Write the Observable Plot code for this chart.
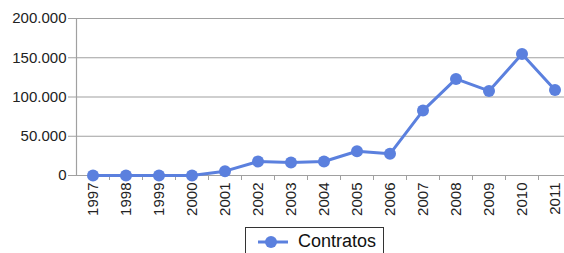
<!DOCTYPE html>
<html>
<head>
<meta charset="utf-8">
<script src="https://cdn.jsdelivr.net/npm/d3@7"></script>
<script src="https://cdn.jsdelivr.net/npm/@observablehq/plot@0.6"></script>
<style>
  html, body { margin: 0; padding: 0; background: #fff; overflow: hidden; width: 564px; height: 253px; }
  #chart svg { display: block; }
  .legend { position: absolute; left: 245px; top: 227px; width: 139px; height: 34px; border: 1px solid #333; box-sizing: border-box; font-family: "Liberation Sans", Arial, sans-serif; font-size: 18px; color: #111; }
  .legend svg { position: absolute; left: 11px; top: 6px; }
  .legend span { position: absolute; left: 52px; top: 3px; }
</style>
</head>
<body>
<div id="chart"></div>
<div class="legend"><svg width="32" height="16"><line x1="1" y1="8" x2="31" y2="8" stroke="#5b80de" stroke-width="3"/><circle cx="14" cy="8" r="6" fill="#5b80de"/></svg><span>Contratos</span></div>
<script>
const years = [1997, 1998, 1999, 2000, 2001, 2002, 2003, 2004, 2005, 2006, 2007, 2008, 2009, 2010, 2011];
const contratos = [0, 0, 0, 0, 5500, 17800, 16500, 17800, 30900, 27600, 82700, 123000, 107700, 154800, 109000];
const yTicks = [0, 50000, 100000, 150000, 200000];
const seriesName = "Contratos";

const data = years.map((y, i) => ({year: y, value: contratos[i]}));
const fmt = d3.formatLocale({thousands: ".", grouping: [3], decimal: ","}).format(",");
const boundaries = years.slice(0, -1).map(y => y + 0.5);
const color = "#5b80de";

const chart = Plot.plot({
  width: 564,
  height: 225,
  marginLeft: 76,
  marginRight: -7,
  marginTop: 18,
  marginBottom: 50,
  style: {fontFamily: "'Liberation Sans', Arial, sans-serif", fontSize: "15px", color: "#222", background: "#fff"},
  x: {type: "linear", domain: [years[0] - 0.5, years[years.length - 1] + 0.5], label: null},
  y: {domain: [0, 200000], label: null},
  marks: [
    Plot.gridY(yTicks, {stroke: "#a0a0a0", strokeOpacity: 1, strokeWidth: 1.2}),
    Plot.ruleX([years[0] - 0.5], {y1: 0, y2: 200000, stroke: "#a0a0a0", strokeWidth: 1.2}),
    Plot.axisY(yTicks, {tickSize: 8, tickPadding: 2, tickFormat: fmt, stroke: "#a0a0a0", fill: "#222", fontSize: 15, label: null}),
    Plot.axisX(boundaries, {tickSize: 5, tickFormat: () => "", stroke: "#a0a0a0", label: null}),
    Plot.axisX(years, {tickSize: 0, tickPadding: 7, tickRotate: -90, tickFormat: d => String(d), fill: "#222", fontSize: 15, label: null}),
    Plot.line(data, {x: "year", y: "value", stroke: color, strokeWidth: 3}),
    Plot.dot(data, {x: "year", y: "value", r: 6, fill: color, title: d => `${seriesName}: ${fmt(d.value)}`})
  ]
});
document.getElementById("chart").appendChild(chart);
</script>
</body>
</html>
